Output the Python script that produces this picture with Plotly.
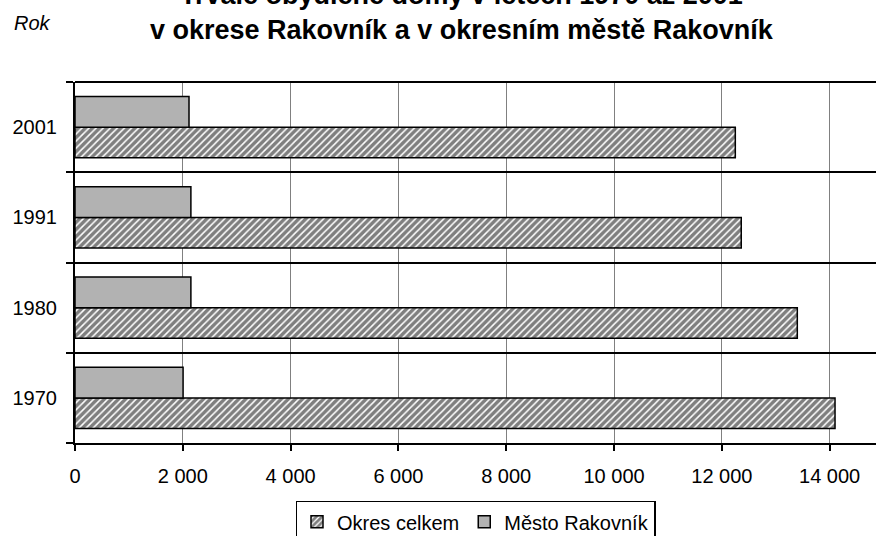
import plotly.graph_objects as go

# Trvale obydlené domy, okres Rakovník
roky = ["1970", "1980", "1991", "2001"]
okres_celkem = [14100, 13400, 12360, 12250]
mesto_rakovnik = [2005, 2150, 2150, 2115]
x_ticks = [0, 2000, 4000, 6000, 8000, 10000, 12000, 14000]

FONT = "Liberation Sans, Arial, sans-serif"

fig = go.Figure()

fig.add_trace(
    go.Bar(
        y=roky,
        x=okres_celkem,
        orientation="h",
        name="Okres celkem",
        marker=dict(
            color="white",
            line=dict(color="black", width=1.5),
            pattern=dict(shape="/", fgcolor="black", bgcolor="white", size=5, solidity=0.7),
        ),
    )
)
fig.add_trace(
    go.Bar(
        y=roky,
        x=mesto_rakovnik,
        orientation="h",
        name="Město Rakovník",
        marker=dict(color="#b2b2b2", line=dict(color="black", width=1.5)),
    )
)

# top border of the plot area
fig.add_shape(
    type="line", xref="paper", yref="paper", x0=0, x1=1, y0=1, y1=1,
    line=dict(color="black", width=2),
)

fig.add_annotation(
    text="Trvale obydlené domy v letech 1970 až 2001<br>v okrese Rakovník a v okresním městě Rakovník",
    xref="paper", yref="paper", x=0.483, y=1.097,
    xanchor="center", yanchor="bottom", showarrow=False,
    font=dict(family=FONT, size=27, color="black", weight="bold"),
)
fig.add_annotation(
    text="<i>Rok</i>",
    xref="paper", yref="paper", x=-0.079, y=1.163,
    xanchor="left", yanchor="middle", showarrow=False,
    font=dict(family=FONT, size=20, color="black"),
)

fig.update_xaxes(
    range=[0, 14860],
    tickvals=x_ticks,
    tickformat=",d",
    showgrid=True,
    gridcolor="#808080",
    gridwidth=1,
    zeroline=False,
    showline=True,
    linecolor="black",
    linewidth=2,
    ticks="outside",
    ticklen=6,
    tickwidth=2,
    tickcolor="black",
    ticklabelstandoff=8,
    automargin=False,
    tickfont=dict(family=FONT, size=20, color="black"),
)
fig.update_yaxes(
    type="category",
    categoryorder="array",
    categoryarray=roky,
    tickson="boundaries",
    showgrid=True,
    gridcolor="black",
    gridwidth=2,
    showline=True,
    linecolor="black",
    linewidth=2,
    ticks="outside",
    ticklen=7,
    tickwidth=2,
    tickcolor="black",
    ticklabelstandoff=12,
    automargin=False,
    tickfont=dict(family=FONT, size=20, color="black"),
)

fig.update_layout(
    width=876,
    height=536,
    barmode="group",
    bargap=0.32,
    bargroupgap=0,
    separators=", ",
    plot_bgcolor="white",
    paper_bgcolor="white",
    margin=dict(l=75, r=0, t=82, b=93, autoexpand=False),
    legend=dict(
        orientation="h",
        x=0.5,
        y=-0.16,
        xanchor="center",
        yanchor="top",
        bordercolor="black",
        borderwidth=1.5,
        itemwidth=30,
        font=dict(family=FONT, size=20, color="black"),
    ),
)

# drop the browser's default body margin so the figure fills the window
fig.write_html(
    "out.html",
    config={"displayModeBar": False},
    post_script="document.body.style.margin='0';document.body.style.overflow='hidden';",
)
